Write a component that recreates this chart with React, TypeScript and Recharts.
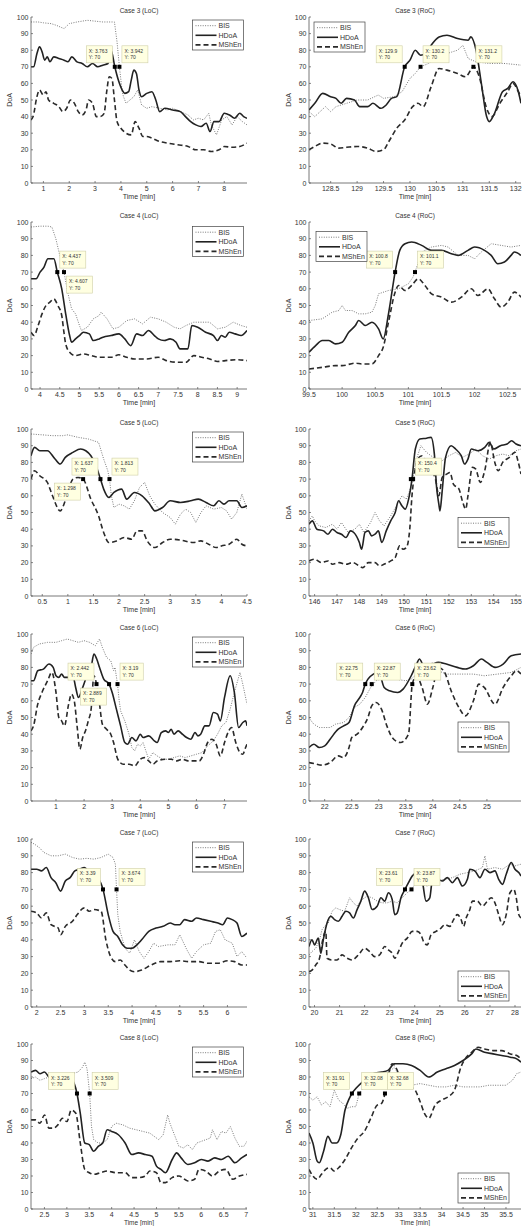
import React from "react";
import { LineChart, Line, XAxis, YAxis, ReferenceDot } from "recharts";

type Pt = [number, number];

const yTicks = [0, 10, 20, 30, 40, 50, 60, 70, 80, 90, 100];

// ---------- Case 3 (LoC)
const c3LocTicks = [1, 2, 3, 4, 5, 6, 7, 8];
const c3LocBIS: Pt[] = [[0.52,97],[0.8,97],[1.0,96.5],[1.3,96],[1.5,95],[1.8,93],[2.0,96],[2.3,97],[2.7,98],[3.0,97.5],[3.3,97],[3.6,97],[3.75,97],[3.85,85],[3.942,70],[4.05,55],[4.1,52],[4.2,48],[4.35,50],[4.5,52],[4.65,56],[4.8,47],[5.0,45],[5.2,46],[5.5,45],[5.8,44],[6.0,45],[6.3,43],[6.6,41],[6.8,38],[7.0,39],[7.2,38],[7.4,42],[7.5,35],[7.7,29],[7.9,38],[8.1,40],[8.3,35],[8.5,40],[8.7,37],[8.88,35]];
const c3LocHDoA: Pt[] = [[0.52,70],[0.62,70],[0.75,78],[0.85,82],[0.95,79],[1.05,74],[1.15,76],[1.25,73],[1.4,76],[1.6,75],[1.8,74],[1.95,73],[2.1,76],[2.3,73],[2.5,72],[2.7,70],[2.9,72],[3.1,70],[3.3,71],[3.5,72],[3.62,80],[3.763,70],[3.9,62],[4.05,56],[4.15,54],[4.3,55],[4.4,62],[4.5,68],[4.6,66],[4.7,56],[4.8,52],[5.0,54],[5.2,55],[5.35,50],[5.5,43],[5.7,45],[6.0,44],[6.3,43],[6.5,40],[6.7,37],[6.9,35],[7.1,34],[7.3,36],[7.45,31],[7.6,37],[7.8,37],[8.0,42],[8.2,41],[8.4,39],[8.6,42],[8.75,40],[8.88,39]];
const c3LocMShEn: Pt[] = [[0.52,38],[0.6,40],[0.75,52],[0.85,56],[1.0,53],[1.1,55],[1.2,50],[1.4,48],[1.6,46],[1.75,43],[1.9,45],[2.05,50],[2.2,48],[2.35,43],[2.5,41],[2.65,44],[2.75,50],[2.9,48],[3.05,40],[3.2,40],[3.35,42],[3.45,55],[3.55,64],[3.65,63],[3.75,50],[3.85,37],[4.0,33],[4.2,30],[4.4,29],[4.55,37],[4.7,33],[4.85,28],[5.0,28],[5.2,27],[5.5,25],[5.8,24],[6.2,23],[6.6,22],[6.9,20],[7.2,20],[7.5,19],[7.8,20],[8.0,22],[8.3,21.5],[8.6,22],[8.88,24]];
const c3LocTips = [3.763, 3.942];

// ---------- Case 3 (RoC)
const c3RocTicks = [128.5, 129, 129.5, 130, 130.5, 131, 131.5, 132];
const c3RocBIS: Pt[] = [[128.09,43],[128.2,40],[128.3,43],[128.4,46],[128.5,43],[128.6,46],[128.8,48],[129.0,50],[129.2,50],[129.4,53],[129.5,51],[129.7,52],[129.85,55],[130.0,63],[130.1,66],[130.2,70],[130.35,72],[130.5,75],[130.7,78],[130.9,80],[131.0,83],[131.1,75],[131.25,73],[131.5,72],[131.8,72],[132.1,71]];
const c3RocHDoA: Pt[] = [[128.09,44],[128.2,48],[128.35,54],[128.5,52],[128.6,51],[128.7,48],[128.8,51],[128.95,50],[129.05,46],[129.2,46],[129.3,48],[129.45,45],[129.55,47],[129.65,51],[129.75,52],[129.9,70],[130.0,74],[130.1,80],[130.2,77],[130.3,78],[130.4,83],[130.55,88],[130.7,89],[130.9,87],[131.1,86],[131.15,88],[131.25,80],[131.35,60],[131.45,40],[131.5,37],[131.6,42],[131.75,55],[131.85,57],[131.95,61],[132.05,55],[132.1,48]];
const c3RocMShEn: Pt[] = [[128.09,20],[128.2,22],[128.35,24],[128.5,23.5],[128.65,21],[128.8,21.5],[129.0,22],[129.2,21],[129.35,19],[129.5,20],[129.6,25],[129.75,33],[129.9,38],[130.05,46],[130.15,48],[130.25,46],[130.4,58],[130.55,69],[130.7,68],[130.9,66],[131.05,64],[131.15,68],[131.2,70],[131.3,65],[131.45,45],[131.55,40],[131.7,48],[131.85,55],[131.95,60],[132.05,55],[132.1,52]];
const c3RocTips = [129.9, 130.2, 131.2];

// ---------- Case 4 (LoC)
const c4LocTicks = [4, 4.5, 5, 5.5, 6, 6.5, 7, 7.5, 8, 8.5, 9];
const c4LocBIS: Pt[] = [[3.77,97],[4.0,97.5],[4.2,97.5],[4.3,97],[4.4,90],[4.5,80],[4.607,70],[4.7,58],[4.8,48],[4.9,45],[5.0,38],[5.05,35],[5.2,37],[5.35,42],[5.5,44],[5.55,46],[5.7,42],[5.85,36],[6.0,37],[6.2,41],[6.4,42],[6.6,39],[6.8,43],[7.0,42],[7.2,40],[7.4,37],[7.55,36],[7.7,38],[7.9,40],[8.1,40],[8.3,40],[8.5,36],[8.7,37],[8.9,40],[9.1,38],[9.25,37]];
const c4LocHDoA: Pt[] = [[3.77,66],[3.9,66],[4.0,70],[4.1,73],[4.2,78],[4.3,78],[4.35,78],[4.437,70],[4.55,60],[4.65,45],[4.75,32],[4.8,28],[4.9,30],[5.0,32],[5.1,34],[5.25,33],[5.35,29],[5.5,30],[5.6,31],[5.8,32],[6.0,33],[6.15,30],[6.3,26],[6.45,33],[6.6,32],[6.75,35],[6.9,32],[7.0,30],[7.15,29],[7.3,30],[7.45,28],[7.55,24],[7.75,24],[7.85,38],[8.0,37],[8.2,34],[8.4,32],[8.5,29],[8.6,32],[8.7,31],[8.8,34],[8.95,33],[9.1,32],[9.25,35]];
const c4LocMShEn: Pt[] = [[3.77,34],[3.85,32],[3.95,38],[4.05,45],[4.15,50],[4.25,52],[4.35,54],[4.45,50],[4.55,44],[4.6,35],[4.65,27],[4.75,22],[4.9,20],[5.1,21],[5.3,20],[5.5,19],[5.8,19],[6.0,20.5],[6.2,19],[6.4,18],[6.7,18],[7.0,19],[7.2,17],[7.5,16],[7.7,16],[7.9,20],[8.1,19],[8.3,18],[8.5,16.5],[8.7,17],[9.0,17.5],[9.25,17]];
const c4LocTips = [4.437, 4.607];

// ---------- Case 4 (RoC)
const c4RocTicks = [99.5, 100, 100.5, 101, 101.5, 102, 102.5];
const c4RocBIS: Pt[] = [[99.5,41],[99.7,42],[99.85,46],[99.95,47],[100.0,50],[100.05,47],[100.15,47],[100.25,45],[100.35,45],[100.45,46],[100.5,50],[100.55,57],[100.7,59],[100.85,60],[101.0,63],[101.07,67],[101.1,70],[101.2,82],[101.35,85],[101.5,86],[101.6,85],[101.75,80],[101.9,80],[102.0,78],[102.1,82],[102.25,87],[102.4,86],[102.55,85],[102.7,86]];
const c4RocHDoA: Pt[] = [[99.5,22],[99.6,26],[99.7,29],[99.8,29],[99.9,27],[100.0,28],[100.1,34],[100.2,38],[100.25,41],[100.35,38],[100.45,40],[100.55,36],[100.62,30],[100.7,45],[100.8,70],[100.87,83],[100.95,87],[101.05,88],[101.2,86],[101.35,83],[101.5,83],[101.65,81],[101.75,80],[101.9,83],[102.0,85],[102.15,83],[102.25,80],[102.35,75],[102.45,76],[102.55,80],[102.6,82],[102.7,80]];
const c4RocMShEn: Pt[] = [[99.5,12],[99.7,13],[99.9,14],[100.0,14],[100.2,15.5],[100.3,15],[100.45,15],[100.55,20],[100.62,25],[100.7,40],[100.8,58],[100.85,62],[100.95,59],[101.05,62],[101.15,66],[101.25,62],[101.35,57],[101.5,55],[101.65,52],[101.8,55],[101.95,60],[102.05,56],[102.2,60],[102.3,54],[102.4,49],[102.5,52],[102.6,58],[102.7,55]];
const c4RocTips = [100.8, 101.1];

// ---------- Case 5 (LoC)
const c5LocTicks = [0.5, 1, 1.5, 2, 2.5, 3, 3.5, 4, 4.5];
const c5LocBIS: Pt[] = [[0.28,97],[0.5,96.5],[0.7,96],[0.9,96],[1.0,96.5],[1.2,95],[1.4,94],[1.6,92],[1.7,82],[1.78,75],[1.813,70],[1.85,60],[1.9,53],[2.0,55],[2.1,54],[2.2,52],[2.3,57],[2.4,65],[2.5,68],[2.6,60],[2.7,55],[2.85,50],[3.0,47],[3.1,43],[3.2,49],[3.3,52],[3.4,50],[3.5,44],[3.6,50],[3.7,54],[3.85,52],[4.0,53],[4.1,51],[4.2,46],[4.3,50],[4.4,61],[4.5,52]];
const c5LocHDoA: Pt[] = [[0.28,84],[0.35,89],[0.45,87],[0.6,87],[0.75,82],[0.85,79],[0.95,83],[1.1,86],[1.25,88],[1.35,87],[1.45,84],[1.55,78],[1.637,70],[1.7,64],[1.8,59],[1.9,62],[2.05,64],[2.15,58],[2.3,62],[2.45,60],[2.6,55],[2.7,51],[2.85,53],[3.0,57],[3.2,56],[3.4,57],[3.55,58],[3.7,56],[3.85,54],[3.95,57],[4.05,55],[4.15,57],[4.3,57],[4.4,53],[4.5,54]];
const c5LocMShEn: Pt[] = [[0.28,70],[0.35,75],[0.45,72],[0.6,68],[0.7,60],[0.85,51],[0.95,57],[1.1,70],[1.2,71],[1.298,70],[1.45,58],[1.6,48],[1.7,38],[1.8,32],[1.95,33],[2.1,35],[2.25,34],[2.35,39],[2.45,39],[2.55,33],[2.7,29],[2.85,32],[3.0,34],[3.2,33.5],[3.45,32],[3.6,33],[3.75,31],[3.9,29],[4.0,30],[4.15,31],[4.3,34],[4.4,31],[4.5,30]];
const c5LocTips = [1.298, 1.637, 1.813];

// ---------- Case 5 (RoC)
const c5RocTicks = [146, 147, 148, 149, 150, 151, 152, 153, 154, 155];
const c5RocBIS: Pt[] = [[145.75,45],[145.9,48],[146.0,45],[146.2,42],[146.5,41],[146.8,43],[147.0,40],[147.2,44],[147.5,38],[147.8,40],[148.0,43],[148.2,38],[148.5,44],[148.7,50],[148.9,45],[149.1,42],[149.4,48],[149.7,55],[149.9,60],[150.1,58],[150.3,65],[150.4,72],[150.55,82],[150.75,90],[151.0,86],[151.2,84],[151.4,82],[151.6,80],[151.8,82],[152.0,84],[152.3,86],[152.6,83],[152.9,85],[153.2,88],[153.5,84],[153.8,82],[154.1,84],[154.4,85],[154.7,84],[155.0,87],[155.22,88]];
const c5RocHDoA: Pt[] = [[145.75,43],[145.9,45],[146.1,40],[146.4,39],[146.6,37],[146.8,40],[147.0,38],[147.2,37],[147.4,35],[147.6,39],[147.75,38],[148.0,32],[148.1,28],[148.25,38],[148.4,39],[148.55,36],[148.7,37],[148.85,39],[149.0,32],[149.2,39],[149.4,45],[149.6,50],[149.75,57],[149.9,54],[150.05,52],[150.2,58],[150.35,70],[150.5,88],[150.7,94],[151.0,94.5],[151.2,95],[151.35,85],[151.45,65],[151.55,55],[151.6,51],[151.7,63],[151.85,83],[152.1,90],[152.3,88],[152.55,84],[152.7,79],[152.85,82],[153.0,88],[153.3,87],[153.6,89],[153.8,92],[154.0,88],[154.3,90],[154.6,91],[154.8,93],[155.0,91],[155.22,90]];
const c5RocMShEn: Pt[] = [[145.75,21],[146.0,22],[146.3,20],[146.6,21],[146.8,19],[147.1,20],[147.4,19],[147.7,20],[148.0,18],[148.15,17],[148.4,20],[148.7,20],[148.9,18],[149.1,19],[149.4,21],[149.6,23],[149.8,30],[149.95,28],[150.1,29],[150.25,40],[150.35,60],[150.45,72],[150.6,82],[150.8,84],[151.0,80],[151.2,75],[151.4,70],[151.55,60],[151.7,71],[151.9,73],[152.05,74],[152.2,67],[152.45,64],[152.6,57],[152.75,52],[152.85,60],[153.05,77],[153.2,76],[153.4,68],[153.6,75],[153.85,92],[154.05,80],[154.2,75],[154.4,80],[154.7,83],[154.95,86],[155.1,80],[155.22,73]];
const c5RocTips = [150.3, 150.4];

// ---------- Case 6 (LoC)
const c6LocTicks = [1, 2, 3, 4, 5, 6, 7];
const c6LocBIS: Pt[] = [[0.11,88],[0.2,92],[0.4,94],[0.7,95],[1.0,95],[1.2,96],[1.4,97],[1.6,96],[1.8,95],[2.0,96],[2.2,95],[2.4,93],[2.55,97],[2.65,92],[2.8,86],[2.95,84],[3.05,78],[3.1,80],[3.19,70],[3.25,60],[3.3,54],[3.45,48],[3.6,40],[3.7,32],[3.8,30],[3.9,34],[4.0,33],[4.1,35],[4.2,30],[4.3,25],[4.45,29],[4.6,27],[4.8,25],[5.0,25],[5.2,26],[5.4,27],[5.6,26],[5.8,27],[6.0,28],[6.2,29],[6.4,33],[6.6,36],[6.75,40],[6.9,45],[7.05,47],[7.2,55],[7.35,65],[7.55,77],[7.65,70],[7.8,58]];
const c6LocHDoA: Pt[] = [[0.11,72],[0.2,72],[0.35,78],[0.55,79],[0.75,82],[0.9,80],[1.0,75],[1.1,74],[1.2,76],[1.3,74],[1.45,74],[1.6,75],[1.7,68],[1.8,62],[1.95,68],[2.1,75],[2.25,80],[2.35,88],[2.45,85],[2.55,80],[2.7,73],[2.889,70],[3.0,65],[3.15,55],[3.3,45],[3.45,35],[3.55,34],[3.7,38],[3.85,36],[4.0,40],[4.1,38],[4.3,39],[4.5,36],[4.6,35],[4.75,41],[4.9,42],[5.0,41],[5.1,43],[5.2,40],[5.35,42],[5.5,40],[5.65,38],[5.8,37],[5.95,41],[6.05,39],[6.15,40],[6.3,45],[6.45,45],[6.6,53],[6.75,52],[6.85,48],[7.0,62],[7.2,75],[7.35,65],[7.5,44],[7.65,47],[7.75,48],[7.8,45]];
const c6LocMShEn: Pt[] = [[0.11,42],[0.2,45],[0.35,58],[0.5,65],[0.7,72],[0.85,77],[1.0,65],[1.1,50],[1.2,48],[1.3,45],[1.45,58],[1.55,64],[1.65,60],[1.75,45],[1.85,31],[1.95,38],[2.05,42],[2.15,48],[2.25,55],[2.35,75],[2.442,70],[2.55,58],[2.65,46],[2.8,43],[2.95,40],[3.05,35],[3.2,25],[3.4,22],[3.6,22],[3.8,21],[4.0,25],[4.15,26],[4.3,24],[4.45,22],[4.6,24],[4.9,25],[5.1,25],[5.3,24],[5.5,25],[5.7,24],[5.9,24],[6.1,24],[6.25,28],[6.4,35],[6.55,37],[6.7,34],[6.85,27],[7.0,35],[7.15,42],[7.25,44],[7.4,35],[7.55,29],[7.65,28],[7.75,32],[7.8,34]];
const c6LocTips = [2.442, 2.889, 3.19];

// ---------- Case 6 (RoC)
const c6RocTicks = [22, 22.5, 23, 23.5, 24, 24.5, 25];
const c6RocBIS: Pt[] = [[21.71,50],[21.75,48],[21.8,46],[21.9,44],[22.0,44],[22.1,44],[22.2,46],[22.35,47],[22.45,50],[22.55,56],[22.65,58],[22.75,62],[22.85,68],[22.95,72],[23.1,74],[23.3,73],[23.5,72],[23.6,73],[23.7,76],[23.85,80],[24.0,83],[24.1,78],[24.25,76],[24.5,76],[24.75,76],[24.95,75],[25.2,76],[25.45,77],[25.63,80]];
const c6RocHDoA: Pt[] = [[21.71,32],[21.8,34],[21.9,32],[22.0,33],[22.1,37],[22.25,43],[22.35,45],[22.45,47],[22.55,57],[22.65,62],[22.7,65],[22.75,70],[22.8,73],[22.9,76],[23.0,77],[23.1,68],[23.2,66],[23.35,65],[23.45,67],[23.6,75],[23.7,82],[23.75,85],[23.85,80],[24.0,82],[24.1,83],[24.25,82],[24.45,80],[24.6,79],[24.75,81],[24.9,85],[25.0,83],[25.15,80],[25.3,82],[25.45,87],[25.63,88]];
const c6RocMShEn: Pt[] = [[21.71,23],[21.8,22.5],[21.95,21.5],[22.1,23],[22.25,27],[22.35,26],[22.45,32],[22.5,38],[22.6,40],[22.7,44],[22.8,50],[22.87,57],[22.95,59],[23.05,55],[23.15,45],[23.25,38],[23.4,35],[23.55,40],[23.62,70],[23.7,75],[23.8,68],[23.9,58],[24.0,68],[24.1,80],[24.2,78],[24.35,65],[24.5,55],[24.6,51],[24.75,60],[24.85,70],[24.95,68],[25.15,58],[25.3,68],[25.45,75],[25.55,78],[25.63,76]];
const c6RocTips = [22.75, 22.87, 23.62];

// ---------- Case 7 (LoC)
const c7LocTicks = [2, 2.5, 3, 3.5, 4, 4.5, 5, 5.5, 6];
const c7LocBIS: Pt[] = [[1.88,98],[1.95,97],[2.05,95],[2.15,92],[2.3,90],[2.45,90],[2.6,91],[2.75,89],[2.9,88],[3.05,88.5],[3.2,88],[3.35,89],[3.5,91],[3.6,89],[3.65,85],[3.674,70],[3.7,55],[3.75,45],[3.85,35],[3.95,32],[4.05,40],[4.15,33],[4.25,29],[4.35,33],[4.45,38],[4.55,36],[4.75,37],[4.9,37],[5.0,43],[5.15,34],[5.25,29],[5.35,33],[5.5,37],[5.65,38],[5.75,45],[5.85,46],[5.95,40],[6.1,38],[6.2,30],[6.3,33],[6.41,29]];
const c7LocHDoA: Pt[] = [[1.88,82],[2.0,82],[2.1,81],[2.2,83],[2.3,77],[2.4,74],[2.5,69],[2.6,75],[2.7,77],[2.8,81],[2.9,82],[3.0,83],[3.1,80],[3.3,76],[3.39,70],[3.5,55],[3.6,45],[3.7,42],[3.8,37],[3.9,35],[4.0,35],[4.1,37],[4.2,40],[4.35,45],[4.5,47],[4.65,48],[4.8,50],[4.9,49],[5.0,49],[5.1,52],[5.25,51],[5.35,53],[5.5,52],[5.65,51],[5.8,50],[5.9,49],[6.0,53],[6.1,52],[6.2,50],[6.3,42],[6.41,44]];
const c7LocMShEn: Pt[] = [[1.88,57],[2.0,56],[2.1,53],[2.2,56],[2.3,49],[2.45,47],[2.5,43],[2.6,48],[2.75,51],[2.85,55],[3.0,59],[3.1,57],[3.2,58],[3.35,57],[3.45,40],[3.55,30],[3.65,27],[3.75,28],[3.85,25],[3.95,22],[4.05,21],[4.2,22],[4.4,25],[4.6,27],[4.8,27],[5.0,27.5],[5.2,27],[5.4,27],[5.6,26],[5.8,26],[6.0,27.5],[6.15,27],[6.3,25],[6.41,25]];
const c7LocTips = [3.39, 3.674];

// ---------- Case 7 (RoC)
const c7RocTicks = [20, 21, 22, 23, 24, 25, 26, 27, 28];
const c7RocBIS: Pt[] = [[19.78,31],[19.9,33],[20.05,35],[20.2,40],[20.3,46],[20.4,48],[20.55,50],[20.7,57],[20.85,59],[21.0,58],[21.2,57],[21.4,65],[21.55,62],[21.7,60],[21.9,64],[22.1,66],[22.3,65],[22.5,63],[22.7,62],[22.9,62],[23.1,63],[23.3,62],[23.5,65],[23.7,68],[23.87,70],[24.1,75],[24.3,73],[24.5,72],[24.7,74],[24.9,75],[25.2,76],[25.5,77],[25.8,79],[26.1,80],[26.4,81],[26.7,83],[26.8,90],[26.9,82],[27.2,83],[27.5,82],[27.8,85],[28.0,84],[28.24,85]];
const c7RocHDoA: Pt[] = [[19.78,36],[19.9,40],[20.0,37],[20.15,41],[20.25,32],[20.35,40],[20.5,50],[20.65,54],[20.8,52],[20.95,51],[21.1,54],[21.25,57],[21.4,56],[21.55,53],[21.7,58],[21.85,63],[22.0,69],[22.15,65],[22.3,58],[22.5,60],[22.65,65],[22.8,63],[22.95,68],[23.1,64],[23.2,55],[23.3,56],[23.45,65],[23.61,70],[23.75,74],[23.9,78],[24.1,80],[24.3,75],[24.45,63],[24.6,65],[24.7,75],[24.9,76],[25.1,75],[25.3,77],[25.5,74],[25.7,77],[25.9,72],[26.1,76],[26.2,82],[26.4,81],[26.6,77],[26.8,82],[27.0,80],[27.2,81],[27.35,76],[27.5,73],[27.65,79],[27.85,86],[28.0,82],[28.15,80],[28.24,78]];
const c7RocMShEn: Pt[] = [[19.78,21],[19.9,22],[20.05,25],[20.2,29],[20.3,38],[20.45,45],[20.5,29],[20.7,28],[20.9,28],[21.1,31],[21.3,29],[21.5,28],[21.75,31],[22.0,35],[22.2,33],[22.4,30],[22.6,31],[22.8,36],[22.95,34],[23.1,32],[23.2,29],[23.35,33],[23.5,38],[23.7,41],[23.9,45],[24.1,45],[24.25,43],[24.35,39],[24.5,37],[24.65,43],[24.85,45],[25.05,47],[25.2,49],[25.4,48],[25.55,52],[25.7,55],[25.85,52],[25.95,48],[26.05,53],[26.2,58],[26.3,63],[26.5,63],[26.7,60],[26.9,63],[27.05,65],[27.2,62],[27.35,55],[27.5,49],[27.65,55],[27.8,68],[27.95,70],[28.05,65],[28.15,55],[28.24,53]];
const c7RocTips = [23.61, 23.87];

// ---------- Case 8 (LoC)
const c8LocTicks = [2.5, 3, 3.5, 4, 4.5, 5, 5.5, 6, 6.5, 7];
const c8LocBIS: Pt[] = [[2.2,79],[2.3,80],[2.4,78],[2.5,79],[2.6,80],[2.75,81],[2.9,82],[3.0,82],[3.1,82],[3.25,83],[3.35,86],[3.4,89],[3.45,85],[3.509,70],[3.55,50],[3.6,42],[3.7,40],[3.8,40],[3.9,42],[4.0,50],[4.1,52],[4.25,51],[4.4,49],[4.55,48],[4.7,47],[4.85,46],[4.95,44],[5.05,42],[5.15,45],[5.25,57],[5.3,52],[5.4,45],[5.5,38],[5.6,37],[5.7,39],[5.8,36],[5.9,40],[6.0,41],[6.1,42],[6.2,43],[6.25,48],[6.35,42],[6.45,47],[6.55,46],[6.65,50],[6.75,43],[6.85,38],[6.95,38],[7.02,41]];
const c8LocHDoA: Pt[] = [[2.2,83],[2.3,84],[2.4,82],[2.5,83],[2.6,80],[2.7,79],[2.85,80],[3.0,80],[3.1,79],[3.226,70],[3.3,58],[3.4,40],[3.5,39],[3.6,35],[3.7,38],[3.8,40],[3.9,48],[4.0,47],[4.15,45],[4.3,40],[4.45,33],[4.6,34],[4.75,33],[4.9,32],[5.0,26],[5.1,24],[5.2,22],[5.35,30],[5.45,34],[5.55,31],[5.7,27],[5.85,28],[6.0,30],[6.15,29],[6.3,31],[6.45,30],[6.6,32],[6.75,28],[6.9,31],[7.02,33]];
const c8LocMShEn: Pt[] = [[2.2,54],[2.3,54],[2.4,52],[2.5,57],[2.6,49],[2.7,49],[2.8,51],[2.9,55],[3.0,53],[3.1,60],[3.2,58],[3.3,40],[3.4,24],[3.5,22],[3.6,21],[3.75,22],[3.9,23],[4.1,22],[4.3,22],[4.45,19],[4.6,19],[4.75,20],[4.85,23],[5.0,22],[5.1,16],[5.2,16],[5.35,19],[5.5,20],[5.7,17],[5.85,18],[5.95,24],[6.1,23],[6.25,20],[6.4,23],[6.55,24],[6.7,18],[6.85,20],[7.02,21]];
const c8LocTips = [3.226, 3.509];

// ---------- Case 8 (RoC)
const c8RocTicks = [31, 31.5, 32, 32.5, 33, 33.5, 34, 34.5, 35, 35.5];
const c8RocBIS: Pt[] = [[30.91,68],[31.0,66],[31.1,68],[31.2,63],[31.3,65],[31.4,62],[31.5,72],[31.6,66],[31.7,64],[31.8,61],[31.9,62],[32.0,62],[32.08,70],[32.3,78],[32.5,80],[32.7,81],[32.9,86],[33.1,76],[33.3,75],[33.5,76],[33.7,75],[33.9,74],[34.1,74],[34.3,75],[34.5,74],[34.7,74],[34.9,74],[35.1,75],[35.3,75],[35.5,75],[35.65,78],[35.75,82],[35.85,83]];
const c8RocHDoA: Pt[] = [[30.91,46],[31.0,40],[31.1,29],[31.15,28],[31.25,35],[31.35,44],[31.45,40],[31.55,40],[31.65,45],[31.75,60],[31.85,67],[31.91,70],[32.0,73],[32.2,78],[32.4,82],[32.6,83],[32.75,84],[32.9,88],[33.1,88],[33.3,87],[33.5,84],[33.7,80],[33.9,83],[34.1,85],[34.3,87],[34.5,90],[34.7,94],[34.8,97],[35.0,95],[35.2,94],[35.4,93],[35.6,92],[35.75,91],[35.85,89]];
const c8RocMShEn: Pt[] = [[30.91,24],[31.0,20],[31.1,18],[31.2,21],[31.3,24],[31.4,25],[31.5,23],[31.6,25],[31.75,30],[31.9,37],[32.05,43],[32.2,47],[32.35,55],[32.5,63],[32.6,64],[32.68,70],[32.75,80],[32.85,88],[32.95,85],[33.05,78],[33.2,74],[33.35,73],[33.5,65],[33.6,58],[33.7,55],[33.85,63],[34.0,66],[34.15,68],[34.3,72],[34.45,86],[34.55,91],[34.7,95],[34.85,98],[35.0,97],[35.2,96],[35.4,96],[35.6,94],[35.75,93],[35.85,91]];
const c8RocTips = [31.91, 32.08, 32.68];

// ---------- layout (positions / styles only)
const PAGE_H = 1226;
const ROW_TOP = [17, 222, 429, 634, 839, 1044];
const ROW_BOTTOM = [183, 389, 596, 801, 1007, 1209];
const MT = 17;
const XAXIS_H = 24;
const FONT = "'Liberation Sans', Arial, Helvetica, sans-serif";
const INK = "#333";
const AXIS = "#555";
const LEG_W = 51;
const LEG_H = 30;

type Legend = { side: "left" | "right"; dx: number; dy: number };
type Panel = {
  title: string;
  row: number;
  col: number;
  domain: [number, number];
  ticks: number[];
  bis: Pt[];
  hdoa: Pt[];
  mshen: Pt[];
  tips: number[];
  sides: string[];
  legend: Legend;
};

const locLegend: Legend = { side: "right", dx: -3.5, dy: 3 };

const panels: Panel[] = [
  { title: "Case 3 (LoC)", row: 0, col: 0, domain: [0.52, 8.88], ticks: c3LocTicks, bis: c3LocBIS, hdoa: c3LocHDoA, mshen: c3LocMShEn, tips: c3LocTips, sides: ["nw", "ne"], legend: locLegend },
  { title: "Case 3 (RoC)", row: 0, col: 1, domain: [128.09, 132.1], ticks: c3RocTicks, bis: c3RocBIS, hdoa: c3RocHDoA, mshen: c3RocMShEn, tips: c3RocTips, sides: ["nw", "ne", "ne"], legend: { side: "left", dx: 5, dy: 5 } },
  { title: "Case 4 (LoC)", row: 1, col: 0, domain: [3.77, 9.25], ticks: c4LocTicks, bis: c4LocBIS, hdoa: c4LocHDoA, mshen: c4LocMShEn, tips: c4LocTips, sides: ["ne", "se"], legend: { side: "right", dx: -3.5, dy: 4.5 } },
  { title: "Case 4 (RoC)", row: 1, col: 1, domain: [99.5, 102.7], ticks: c4RocTicks, bis: c4RocBIS, hdoa: c4RocHDoA, mshen: c4RocMShEn, tips: c4RocTips, sides: ["nw", "ne"], legend: { side: "left", dx: 7, dy: 9.5 } },
  { title: "Case 5 (LoC)", row: 2, col: 0, domain: [0.28, 4.5], ticks: c5LocTicks, bis: c5LocBIS, hdoa: c5LocHDoA, mshen: c5LocMShEn, tips: c5LocTips, sides: ["sw", "nw", "ne"], legend: locLegend },
  { title: "Case 5 (RoC)", row: 2, col: 1, domain: [145.75, 155.22], ticks: c5RocTicks, bis: c5RocBIS, hdoa: c5RocHDoA, mshen: c5RocMShEn, tips: c5RocTips, sides: ["none", "ne"], legend: { side: "right", dx: -12, dy: 88.5 } },
  { title: "Case 6 (LoC)", row: 3, col: 0, domain: [0.11, 7.8], ticks: c6LocTicks, bis: c6LocBIS, hdoa: c6LocHDoA, mshen: c6LocMShEn, tips: c6LocTips, sides: ["nw", "sw", "ne"], legend: locLegend },
  { title: "Case 6 (RoC)", row: 3, col: 1, domain: [21.71, 25.63], ticks: c6RocTicks, bis: c6RocBIS, hdoa: c6RocHDoA, mshen: c6RocMShEn, tips: c6RocTips, sides: ["nw", "ne", "ne"], legend: { side: "right", dx: -12, dy: 88 } },
  { title: "Case 7 (LoC)", row: 4, col: 0, domain: [1.88, 6.41], ticks: c7LocTicks, bis: c7LocBIS, hdoa: c7LocHDoA, mshen: c7LocMShEn, tips: c7LocTips, sides: ["nw", "ne"], legend: locLegend },
  { title: "Case 7 (RoC)", row: 4, col: 1, domain: [19.78, 28.24], ticks: c7RocTicks, bis: c7RocBIS, hdoa: c7RocHDoA, mshen: c7RocMShEn, tips: c7RocTips, sides: ["nw", "ne"], legend: { side: "right", dx: -12, dy: 132 } },
  { title: "Case 8 (LoC)", row: 5, col: 0, domain: [2.2, 7.02], ticks: c8LocTicks, bis: c8LocBIS, hdoa: c8LocHDoA, mshen: c8LocMShEn, tips: c8LocTips, sides: ["nw", "ne"], legend: locLegend },
  { title: "Case 8 (RoC)", row: 5, col: 1, domain: [30.91, 35.85], ticks: c8RocTicks, bis: c8RocBIS, hdoa: c8RocHDoA, mshen: c8RocMShEn, tips: c8RocTips, sides: ["nw", "ne", "ne"], legend: { side: "right", dx: -12, dy: 129 } },
];

const series = [
  { key: "bis", name: "BIS", color: "#7a7a7a", width: 1, dash: "1 1.4", curve: "linear" as const },
  { key: "hdoa", name: "HDoA", color: "#222", width: 1.6, dash: undefined, curve: "monotone" as const },
  { key: "mshen", name: "MShEn", color: "#2a2a2a", width: 1.6, dash: "5 3", curve: "monotone" as const },
];

const toRows = (pts: Pt[]) => pts.map(([t, v]) => ({ t, v }));

function XTick(props: any) {
  const { x, y, payload } = props;
  const ay = y - 3;
  return (
    <g>
      <line x1={x} x2={x} y1={ay} y2={ay - 2} stroke={AXIS} strokeWidth={0.7} />
      <text x={x} y={ay + 8} textAnchor="middle" fontSize={7} fill={INK} fontFamily={FONT}>
        {payload.value}
      </text>
    </g>
  );
}

function YTick(props: any) {
  const { x, y, payload } = props;
  const ax = x + 3;
  return (
    <g>
      <line x1={ax} x2={ax + 2} y1={y} y2={y} stroke={AXIS} strokeWidth={0.7} />
      <text x={ax - 2.5} y={y + 2.5} textAnchor="end" fontSize={7} fill={INK} fontFamily={FONT}>
        {payload.value}
      </text>
    </g>
  );
}

function tipShape(value: number, side: string) {
  return (props: any) => {
    const { cx, cy } = props;
    const l1 = `X: ${value}`;
    const w = 4 + l1.length * 2.75;
    const h = 17;
    const bx = side.endsWith("e") ? cx + 2.5 : cx - 2.5 - w;
    const by = side.startsWith("n") ? cy - 4 - h : cy + 4;
    return (
      <g>
        {side !== "none" && (
          <g>
            <rect x={bx} y={by} width={w} height={h} fill="#ffffe1" stroke="#cfcfa8" strokeWidth={0.6} />
            <text x={bx + 2.5} y={by + 7} fontSize={5} fill={INK} fontFamily={FONT}>{l1}</text>
            <text x={bx + 2.5} y={by + 13.5} fontSize={5} fill={INK} fontFamily={FONT}>Y: 70</text>
          </g>
        )}
        <rect x={cx - 2} y={cy - 2} width={4} height={4} fill="#000" />
      </g>
    );
  };
}

function PanelChart({ p }: { p: Panel }) {
  const left = p.col === 0;
  const x0 = left ? 0 : 261;
  const yw = left ? 31 : 48;
  const mr = left ? 14 : 1;
  const plotH = ROW_BOTTOM[p.row] - ROW_TOP[p.row];
  const ch = MT + plotH + XAXIS_H;
  const top = ROW_TOP[p.row] - MT;
  const plotL = yw;
  const plotR = 261 - mr;
  const plotB = MT + plotH;
  const cxMid = (plotL + plotR) / 2;
  const lx = p.legend.side === "right" ? plotR + p.legend.dx - LEG_W : plotL + p.legend.dx;
  const ly = MT + p.legend.dy;
  const dylab = left ? 10 : 28;
  // keep the x-axis title inside the page on the last row
  const timeY = Math.min(plotB + 16, PAGE_H - 1.5 - top);

  return (
    <div style={{ position: "absolute", left: x0, top, width: 261, height: ch }}>
      <LineChart width={261} height={ch} margin={{ top: MT, right: mr, bottom: 0, left: 0 }}>
        <XAxis
          type="number"
          dataKey="t"
          domain={p.domain}
          ticks={p.ticks}
          interval={0}
          allowDataOverflow
          height={XAXIS_H}
          tickSize={0}
          tickMargin={3}
          tick={<XTick />}
          axisLine={{ stroke: AXIS, strokeWidth: 0.8 }}
        />
        <YAxis
          type="number"
          domain={[0, 100]}
          ticks={yTicks}
          interval={0}
          width={yw}
          tickSize={0}
          tickMargin={3}
          tick={<YTick />}
          axisLine={{ stroke: AXIS, strokeWidth: 0.8 }}
        />
        {series.map((s) => (
          <Line
            key={s.key}
            data={toRows((p as any)[s.key])}
            dataKey="v"
            type={s.curve}
            stroke={s.color}
            strokeWidth={s.width}
            strokeDasharray={s.dash}
            dot={false}
            activeDot={false}
            isAnimationActive={false}
          />
        ))}
        {p.tips.map((t, i) => (
          <ReferenceDot key={t} x={t} y={70} r={2} ifOverflow="visible" shape={tipShape(t, p.sides[i])} />
        ))}
      </LineChart>
      <svg
        width={261}
        height={ch}
        style={{ position: "absolute", left: 0, top: 0, pointerEvents: "none", overflow: "visible" }}
      >
        <text x={cxMid} y={MT - 4.5} textAnchor="middle" fontSize={6.5} fill={INK} fontFamily={FONT}>
          {p.title}
        </text>
        <text
          x={dylab}
          y={MT + plotH / 2}
          textAnchor="middle"
          fontSize={7}
          fill={INK}
          fontFamily={FONT}
          transform={`rotate(-90 ${dylab} ${MT + plotH / 2})`}
          dy={2.4}
        >
          DoA
        </text>
        <text x={cxMid} y={timeY} textAnchor="middle" fontSize={p.row === 5 ? 6.5 : 7} fill={INK} fontFamily={FONT}>
          Time [min]
        </text>
        <g>
          <rect x={lx} y={ly} width={LEG_W} height={LEG_H} fill="#fff" stroke="#444" strokeWidth={0.7} />
          {series.map((s, i) => {
            const yy = ly + 5.7 + i * 9.6;
            return (
              <g key={s.key}>
                <line x1={lx + 3} x2={lx + 24} y1={yy} y2={yy} stroke={s.color} strokeWidth={s.width} strokeDasharray={s.dash} />
                <text x={lx + 26} y={yy + 2.4} fontSize={7} fill={INK} fontFamily={FONT}>
                  {s.name}
                </text>
              </g>
            );
          })}
        </g>
      </svg>
    </div>
  );
}

export default function App() {
  return (
    <div
      style={{
        position: "absolute",
        left: 0,
        top: 0,
        width: 522,
        height: PAGE_H,
        background: "#fff",
        overflow: "hidden",
        fontFamily: FONT,
      }}
    >
      {panels.map((p) => (
        <PanelChart key={p.title} p={p} />
      ))}
    </div>
  );
}
